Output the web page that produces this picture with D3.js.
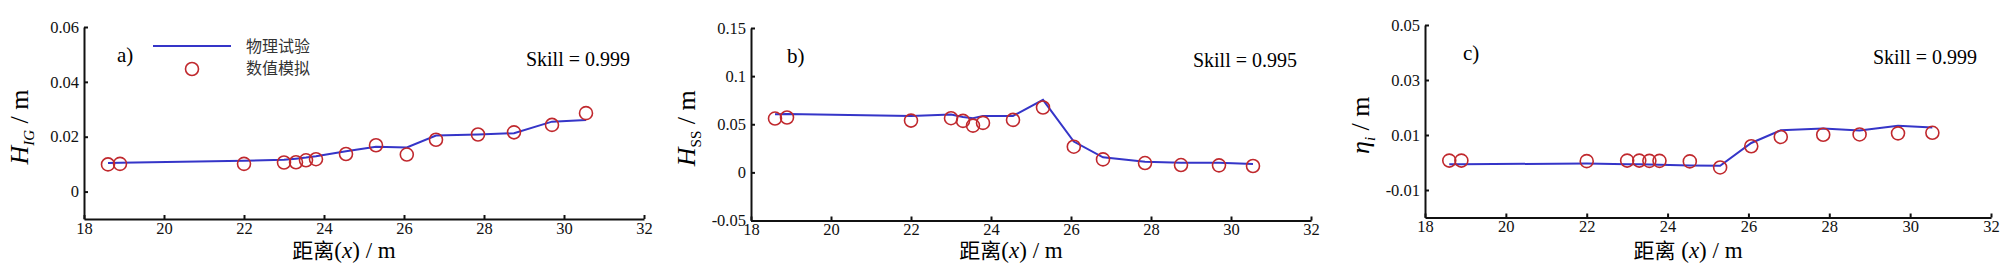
<!DOCTYPE html>
<meta charset="utf-8">
<script src="https://d3js.org/d3.v7.min.js"></script>
<style>
  body { margin: 0; background: #fff; }
  text { font-family: "Liberation Serif", "Noto Sans CJK SC", serif; }
</style>
<div id="chart"></div>
<script>
// distances along the flume (m)
var xExp = [18.6, 18.9, 22.0, 23.0, 23.3, 23.55, 23.8, 24.55, 25.3, 26.07, 26.8, 27.85, 28.75, 29.7, 30.55];
var xTicks = [18, 20, 22, 24, 26, 28, 30, 32];

// a) infragravity wave height
var hIgExp = [0.0104, 0.0105, 0.0112, 0.0116, 0.0120, 0.0124, 0.0129, 0.0147, 0.0163, 0.0161, 0.0204, 0.0208, 0.0213, 0.0255, 0.0261];
var hIgNum = [0.0099, 0.0101, 0.0101, 0.0106, 0.0107, 0.0114, 0.0118, 0.0137, 0.0169, 0.0135, 0.0189, 0.0208, 0.0216, 0.0243, 0.0286];
var hIgTicks = [0, 0.02, 0.04, 0.06];

// b) short wave height
var hSsExp = [0.0605, 0.0606, 0.0587, 0.0600, 0.0575, 0.0563, 0.0587, 0.0587, 0.0753, 0.0320, 0.0156, 0.0111, 0.0101, 0.0101, 0.0087];
var hSsNum = [0.0559, 0.0570, 0.0538, 0.0563, 0.0535, 0.0486, 0.0514, 0.0545, 0.0674, 0.0267, 0.0135, 0.0097, 0.0076, 0.0073, 0.0066];
var hSsTicks = [-0.05, 0, 0.05, 0.1, 0.15];

// c) setup
var etaExp = [-0.0006, -0.0006, -0.0004, -0.0006, -0.0006, -0.0007, -0.0008, -0.0011, -0.0012, 0.0071, 0.0117, 0.0124, 0.0116, 0.0134, 0.0127];
var etaNum = [0.0007, 0.0007, 0.0005, 0.0007, 0.0007, 0.0006, 0.0006, 0.0004, -0.0018, 0.0059, 0.0093, 0.0101, 0.0102, 0.0106, 0.0108];
var etaTicks = [-0.01, 0.01, 0.03, 0.05];

var lineColor = "#3535c8", dotColor = "#c0282d";
var serif = "'Liberation Serif', 'Noto Sans CJK SC', serif";

var svg = d3.select("#chart").append("svg")
    .attr("width", 2006)
    .attr("height", 280);

function fmt(d) { return String(+d.toFixed(3)); }

function drawPanel(p) {
  var x = d3.scaleLinear().domain([18, 32]).range([p.left, p.right]);
  var y = d3.scaleLinear().domain(p.yDomain).range([p.bottom, p.top]);
  var g = svg.append("g");

  // axes, ticks pointing inward
  var xa = g.append("g")
      .attr("transform", "translate(0," + p.bottom + ")")
      .call(d3.axisBottom(x).tickValues(xTicks).tickSize(-4).tickSizeOuter(0).tickPadding(3).tickFormat(fmt));
  var ya = g.append("g")
      .attr("transform", "translate(" + p.left + ",0)")
      .call(d3.axisLeft(y).tickValues(p.yTicks).tickSize(-4).tickSizeOuter(0).tickPadding(5).tickFormat(fmt));
  [xa, ya].forEach(function(a) {
    a.attr("font-family", serif).attr("font-size", 16.5);
    a.select(".domain").attr("stroke", "#111").attr("stroke-width", 2);
    a.selectAll(".tick line").attr("stroke", "#111").attr("stroke-width", 2);
    a.selectAll("text").attr("fill", "#111");
  });

  // experiment line
  var line = d3.line().x(function(d, i) { return x(xExp[i]); }).y(function(d) { return y(d); });
  g.append("path")
      .datum(p.exp)
      .attr("fill", "none")
      .attr("stroke", lineColor)
      .attr("stroke-width", 2)
      .attr("d", line);

  // model circles
  g.selectAll("circle.num")
    .data(p.num)
    .enter()
    .append("circle")
      .attr("cx", function(d, i) { return x(xExp[i]); })
      .attr("cy", function(d) { return y(d); })
      .attr("r", 6.5)
      .attr("fill", "none")
      .attr("stroke", dotColor)
      .attr("stroke-width", 1.6);

  // panel letter and skill
  g.append("text")
      .attr("x", p.left + p.letterDx)
      .attr("y", p.top + 35)
      .attr("font-size", 21)
      .text(p.letter);
  g.append("text")
      .attr("x", p.right - 14)
      .attr("y", p.top + 39)
      .attr("text-anchor", "end")
      .attr("font-size", 20)
      .text(p.skill);

  // x label
  var xl = g.append("text")
      .attr("x", (p.left + p.right) / 2 - 20)
      .attr("y", 258)
      .attr("text-anchor", "middle")
      .attr("font-size", 23);
  xl.append("tspan").style("font-family", "'Noto Sans CJK SC', sans-serif").attr("font-size", 21).text("距离");
  xl.append("tspan").text(p.cjkGap + "(");
  xl.append("tspan").attr("font-style", "italic").text("x");
  xl.append("tspan").text(") / m");

  // y label
  var yl = g.append("text")
      .attr("transform", "translate(" + (p.left - 56) + "," + ((p.top + p.bottom) / 2 + 4) + ") rotate(-90)")
      .attr("text-anchor", "middle")
      .attr("font-size", 26);
  yl.append("tspan").attr("font-style", "italic").text(p.yMain);
  yl.append("tspan").attr("font-size", 15).attr("dy", 6)
      .attr("font-style", p.subItalic ? "italic" : "normal").text(p.ySub);
  yl.append("tspan").attr("dy", -6).text(" / m");

  return {x: x, y: y, g: g};
}

drawPanel({left: 84, right: 644, top: 27, bottom: 219, yDomain: [-0.01, 0.06], yTicks: hIgTicks,
  exp: hIgExp, num: hIgNum, letter: "a)", letterDx: 33, skill: "Skill = 0.999",
  yMain: "H", ySub: "IG", subItalic: true, cjkGap: ""});
drawPanel({left: 751, right: 1311, top: 28, bottom: 220.5, yDomain: [-0.05, 0.15], yTicks: hSsTicks,
  exp: hSsExp, num: hSsNum, letter: "b)", letterDx: 36, skill: "Skill = 0.995",
  yMain: "H", ySub: "SS", subItalic: false, cjkGap: ""});
drawPanel({left: 1425, right: 1991, top: 25, bottom: 217.5, yDomain: [-0.02, 0.05], yTicks: etaTicks,
  exp: etaExp, num: etaNum, letter: "c)", letterDx: 38, skill: "Skill = 0.999",
  yMain: "η", ySub: "i", subItalic: true, cjkGap: " "});

// legend (panel a only)
var lg = svg.append("g");
lg.append("line")
    .attr("x1", 153).attr("x2", 231).attr("y1", 46).attr("y2", 46)
    .attr("stroke", lineColor).attr("stroke-width", 2);
lg.append("circle")
    .attr("cx", 192).attr("cy", 69).attr("r", 6.5)
    .attr("fill", "none").attr("stroke", dotColor).attr("stroke-width", 1.6);
lg.selectAll("text.leg")
  .data(["物理试验", "数值模拟"])
  .enter()
  .append("text")
    .attr("x", 246)
    .attr("y", function(d, i) { return 52 + i * 22; })
    .attr("font-size", 16)
    .attr("fill", "#333")
    .style("font-family", "'Noto Sans CJK SC', sans-serif")
    .text(function(d) { return d; });
</script>
